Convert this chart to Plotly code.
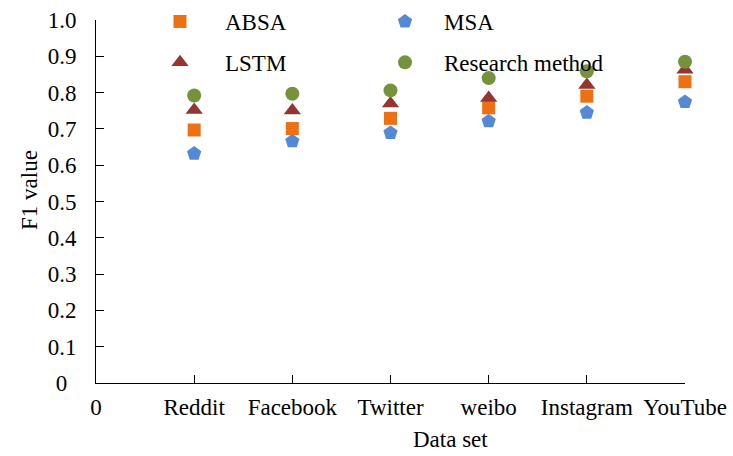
import plotly.graph_objects as go

categories = ["0", "Reddit", "Facebook", "Twitter", "weibo", "Instagram", "YouTube"]
x_pos = [1, 2, 3, 4, 5, 6]
absa = [0.697, 0.701, 0.729, 0.758, 0.790, 0.830]
msa = [0.632, 0.666, 0.689, 0.721, 0.745, 0.774]
lstm = [0.752, 0.751, 0.770, 0.785, 0.821, 0.863]
research = [0.792, 0.797, 0.806, 0.840, 0.859, 0.885]
y_ticks = [0, 0.1, 0.2, 0.3, 0.4, 0.5, 0.6, 0.7, 0.8, 0.9, 1.0]
y_labels = ["0\u2009\u2009", "0.1", "0.2", "0.3", "0.4", "0.5", "0.6", "0.7", "0.8", "0.9", "1.0"]

FONT = "Liberation Serif, Times New Roman, serif"
FS = 23
W, H = 733, 456
L, R, T, B = 96, 48, 20, 73
fig = go.Figure()

def add(name, vals, symbol, color, size, legend, group):
    fig.add_trace(go.Scatter(x=x_pos, y=vals, mode="markers", name=name, cliponaxis=False,
                             marker=dict(symbol=symbol, color=color, size=size,
                                         line=dict(width=0)),
                             legend=legend, legendgroup=group))

add("MSA", msa, "pentagon", "#5589D6", 15, "legend2", "g1")
add("ABSA", absa, "square", "#EB7114", 13, "legend", "g1")
add("LSTM", lstm, "triangle-up", "#943532", 15, "legend", "g2")
add("Research method", research, "circle", "#76923C", 14, "legend2", "g2")

leg = dict(font=dict(family=FONT, size=FS, color="black"), bgcolor="rgba(0,0,0,0)",
           traceorder="grouped", tracegroupgap=8, xanchor="left", yanchor="top",
           xref="container", yref="container")

fig.update_layout(
    width=W, height=H,
    margin=dict(l=L, r=R, t=T, b=B, autoexpand=False),
    plot_bgcolor="white", paper_bgcolor="white",
    font=dict(family=FONT, size=FS, color="black"),
    showlegend=True,
    legend=dict(leg, x=135 / W, y=1.0, itemwidth=80),
    legend2=dict(leg, x=366 / W, y=1.0, itemwidth=68),
    xaxis=dict(range=[0, 6], tickvals=list(range(7)), ticktext=categories,
               showline=True, linecolor="black", linewidth=1, ticks="inside",
               ticklen=8, tickcolor="black", showgrid=False, zeroline=False,
               tickfont=dict(family=FONT, size=FS), ticklabelstandoff=3, automargin=False),
    yaxis=dict(range=[0, 1.0], tickvals=y_ticks, ticktext=y_labels,
               showline=True, linecolor="black", linewidth=1, ticks="inside",
               ticklen=8, tickcolor="black", showgrid=False, zeroline=False,
               tickfont=dict(family=FONT, size=FS), ticklabelstandoff=14, automargin=False),
    annotations=[
        dict(text="F1 value", x=30, y=190, xref="paper", yref="paper", showarrow=False,
             textangle=-90, xanchor="center", yanchor="middle", font=dict(family=FONT, size=FS)),
        dict(text="Data set", x=450, y=440, xref="paper", yref="paper", showarrow=False,
             xanchor="center", yanchor="middle", font=dict(family=FONT, size=FS)),
    ],
)
pw = W - L - R
ph = H - T - B
for a in fig.layout.annotations:
    px, py = a.x, a.y
    a.x = (px - L) / pw
    a.y = (H - B - py) / ph

fig.write_html("out.html")
